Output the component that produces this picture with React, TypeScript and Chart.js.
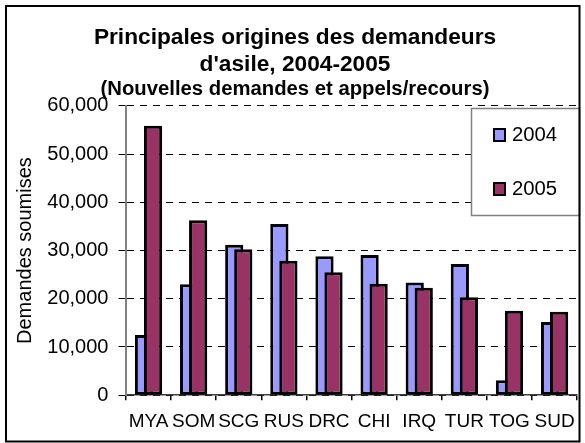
import React, { useEffect, useRef } from 'react';
import { Chart, registerables } from 'chart.js';

Chart.register(...registerables);

const categories = ['MYA', 'SOM', 'SCG', 'RUS', 'DRC', 'CHI', 'IRQ', 'TUR', 'TOG', 'SUD'];
const values2004 = [12500, 23000, 31200, 35500, 28800, 29100, 23400, 27200, 3100, 15200];
const values2005 = [55900, 36300, 30300, 27900, 25500, 23100, 22300, 20300, 17500, 17300];
const seriesLabels = ['2004', '2005'];
const seriesColors = ['#9999FF', '#993366'];
const titleLines = ['Principales origines des demandeurs', "d'asile, 2004-2005"];
const subtitleText = '(Nouvelles demandes et appels/recours)';
const yAxisTitle = 'Demandes soumises';
const yMin = 0;
const yMax = 60000;
const yStep = 10000;

const FONT = "'Liberation Sans', Arial, sans-serif";

// draw datasets in index order so that 2005 bars overlap 2004 bars
const orderPlugin = {
  id: 'indexOrderDraw',
  beforeDatasetsDraw(chart: any) {
    const metas = chart.getSortedVisibleDatasetMetas().slice().sort((a: any, b: any) => a.index - b.index);
    metas.forEach((m: any) => m.controller.draw());
    return false;
  },
};

const framePlugin = {
  id: 'frameAndLegend',
  beforeDraw(chart: any) {
    const ctx = chart.ctx;
    ctx.save();
    ctx.fillStyle = '#ffffff';
    ctx.fillRect(0, 0, chart.width, chart.height);
    ctx.restore();
  },
  afterDraw(chart: any) {
    const ctx = chart.ctx;
    ctx.save();
    // legend box
    const lx = 471.5, ly = 108.5, lw = 108, lh = 107;
    ctx.fillStyle = '#ffffff';
    ctx.fillRect(lx, ly, lw, lh);
    ctx.strokeStyle = '#808080';
    ctx.lineWidth = 1.5;
    ctx.strokeRect(lx, ly, lw, lh);
    const itemY = [135.5, 189.5];
    chart.data.datasets.forEach((ds: any, i: number) => {
      const cy = itemY[i];
      ctx.fillStyle = ds.backgroundColor;
      ctx.fillRect(494, cy - 6.5, 11, 12);
      ctx.strokeStyle = '#000000';
      ctx.lineWidth = 2;
      ctx.strokeRect(494, cy - 6.5, 11, 12);
      ctx.fillStyle = '#000000';
      ctx.font = `20.3px ${FONT}`;
      ctx.textBaseline = 'middle';
      ctx.textAlign = 'left';
      ctx.fillText(ds.label, 512, cy);
    });
    // outer frame
    ctx.strokeStyle = '#000000';
    ctx.lineWidth = 2;
    ctx.strokeRect(6, 6, 573.5, 435.5);
    ctx.restore();
  },
};

export default function App() {
  const ref = useRef<HTMLCanvasElement | null>(null);

  useEffect(() => {
    if (!ref.current) return;
    const barStyle = {
      borderColor: '#000000',
      borderWidth: 3,
      borderSkipped: false,
      categoryPercentage: 0.4,
      barPercentage: 2.02,
    };
    const chart = new Chart(ref.current, {
      type: 'bar',
      data: {
        labels: categories,
        datasets: [
          { label: seriesLabels[0], data: values2004, backgroundColor: seriesColors[0], ...barStyle },
          { label: seriesLabels[1], data: values2005, backgroundColor: seriesColors[1], ...barStyle },
        ],
      },
      options: {
        responsive: false,
        animation: false,
        layout: { padding: { left: 12, right: 7, top: 0, bottom: 0 } },
        plugins: {
          legend: { display: false },
          tooltip: { enabled: false },
          title: {
            display: true,
            text: titleLines,
            color: '#000000',
            font: { family: FONT, size: 22.7, weight: 'bold', lineHeight: 1.17 },
            padding: { top: 24.5, bottom: 0 },
          },
          subtitle: {
            display: true,
            text: subtitleText,
            color: '#000000',
            font: { family: FONT, size: 20.3, weight: 'bold', lineHeight: 1.2 },
            padding: { top: 0, bottom: 4 },
          },
        },
        scales: {
          x: {
            offset: true,
            grid: {
              offset: true,
              drawOnChartArea: false,
              drawTicks: true,
              tickLength: 5,
              tickColor: '#000000',
              lineWidth: 1.5,
            },
            border: { display: true, color: '#404040', width: 1.5 },
            ticks: {
              color: '#000000',
              font: { family: FONT, size: 19 },
              padding: 10,
              maxRotation: 0,
              autoSkip: false,
            },
          },
          y: {
            min: yMin,
            max: yMax,
            grid: {
              color: '#000000',
              lineWidth: 1,
              drawTicks: true,
              tickLength: 7.5,
              tickColor: '#000000',
            },
            border: { display: true, color: '#808080', width: 2, dash: [7, 6] },
            ticks: {
              stepSize: yStep,
              color: '#000000',
              font: { family: FONT, size: 20 },
              padding: 10,
              callback: (v: any) => Number(v).toLocaleString('en-US'),
            },
            title: {
              display: true,
              text: yAxisTitle,
              color: '#000000',
              font: { family: FONT, size: 20 },
              padding: { top: 1, bottom: 0.3 },
            },
          },
        },
      },
      plugins: [orderPlugin, framePlugin],
    });
    return () => chart.destroy();
  }, []);

  return (
    <div style={{ position: 'absolute', left: 0, top: 0, width: 585, height: 443 }}>
      <canvas ref={ref} width={585} height={443} style={{ display: 'block' }} />
    </div>
  );
}
